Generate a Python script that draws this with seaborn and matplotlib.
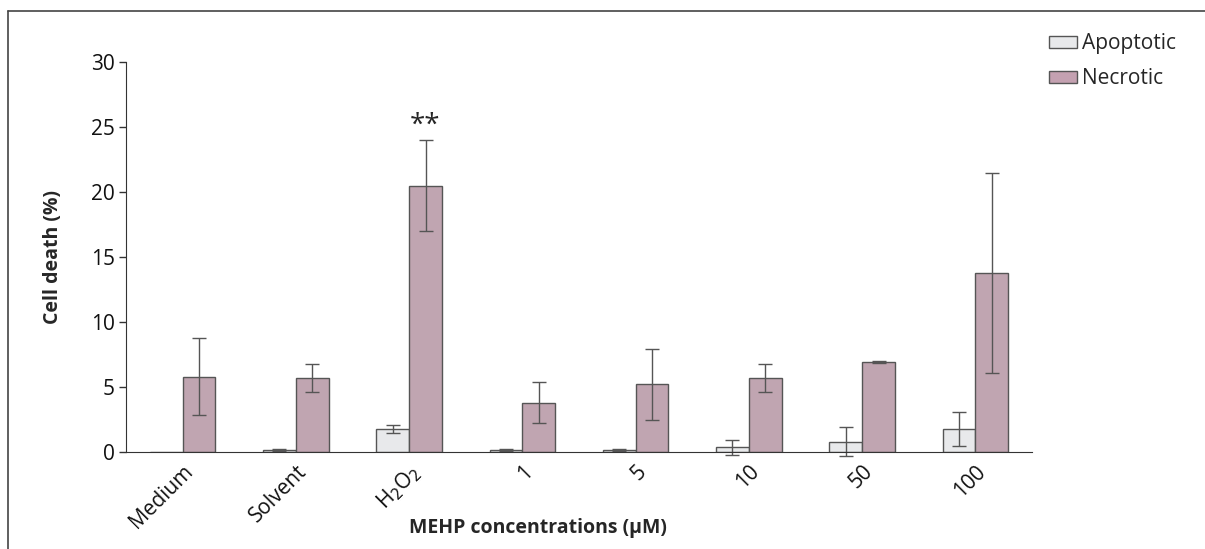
import numpy as np
import pandas as pd
import matplotlib
matplotlib.use("Agg")
import matplotlib.pyplot as plt
import seaborn as sns
from matplotlib.lines import Line2D

# Data
groups = ["Medium", "Solvent", "H$_2$O$_2$", "1", "5", "10", "50", "100"]
apoptotic = [0.03, 0.15, 1.8, 0.15, 0.15, 0.35, 0.8, 1.8]
apoptotic_err = [0.0, 0.1, 0.3, 0.05, 0.05, 0.55, 1.1, 1.3]
necrotic = [5.8, 5.7, 20.5, 3.8, 5.2, 5.7, 6.95, 13.8]
necrotic_err = [2.95, 1.1, 3.5, 1.6, 2.7, 1.1, 0.08, 7.7]
series = ["Apoptotic", "Necrotic"]
colors = ["#e8e9eb", "#c4a1b1"]

df = pd.DataFrame({
    "group": groups * 2,
    "type": [series[0]] * len(groups) + [series[1]] * len(groups),
    "value": apoptotic + necrotic,
    "err": apoptotic_err + necrotic_err,
})

sns.set_style("white")
plt.rcParams["font.family"] = ["Open Sans", "DejaVu Sans"]

fig = plt.figure(figsize=(12.05, 5.49), dpi=100)
ax = fig.add_axes([126 / 1205, 1 - 452 / 549, (1032 - 126) / 1205, (452 - 62) / 549])

sns.barplot(data=df, x="group", y="value", hue="type", order=groups,
            hue_order=series, palette=colors, width=0.58, errorbar=None,
            edgecolor="#555555", linewidth=1.0, ax=ax, legend=False)

# error bars at the centres of the drawn bars
for container, s in zip(ax.containers, series):
    sub = df[df["type"] == s].set_index("group").loc[groups]
    xs = [p.get_x() + p.get_width() / 2 for p in container.patches]
    for x, v, e in zip(xs, sub["value"], sub["err"]):
        if e <= 0:
            continue
        eb = ax.errorbar(x, v, yerr=e, fmt="none", ecolor="#555555",
                         elinewidth=1.0, capsize=5, capthick=1.0)
        for art in eb.lines[1] + eb.lines[2]:
            art.set_clip_on(False)

ax.set_xlim(-0.5, 7.5)
ax.set_ylim(0, 30)
ax.set_yticks(range(0, 31, 5))
sns.despine(ax=ax)
ax.spines["left"].set_color("#333333")
ax.spines["bottom"].set_color("#333333")
ax.tick_params(axis="y", left=True, length=5, width=1, color="#333333",
               labelsize=15, pad=3, labelcolor="#111111")
ax.tick_params(axis="x", bottom=False, labelsize=15, pad=3, labelcolor="#111111")
ax.set_xticks(range(len(groups)))
ax.set_xticklabels(groups, rotation=45, ha="right", rotation_mode="anchor")
ax.set_ylabel("Cell death (%)", fontsize=14, fontweight="bold", labelpad=20)
ax.set_xlabel("MEHP concentrations (µM)", fontsize=14, fontweight="bold")
ax.xaxis.set_label_coords(0.455, -0.168)

# significance marker above H2O2 necrotic bar
h2o2_x = ax.containers[1].patches[2]
ax.text(h2o2_x.get_x() + h2o2_x.get_width() / 2, 24.0, "**",
        ha="center", va="bottom", fontsize=20)

# legend outside the axes
handles = [plt.Rectangle((0, 0), 1, 1, facecolor=c, edgecolor="#555555")
           for c in colors]
fig.legend(handles, series, loc="upper left",
           bbox_to_anchor=(1041 / 1205, 1 - 25 / 549), frameon=False,
           fontsize=15, handlelength=1.35, handleheight=0.5,
           handletextpad=0.2, labelspacing=0.68, borderaxespad=0)

# outer frame (top and left edges visible)
fig.add_artist(Line2D([8 / 1205, 1], [1 - 11 / 549] * 2,
                      transform=fig.transFigure, color="#444444", lw=1.2))
fig.add_artist(Line2D([8 / 1205] * 2, [0, 1 - 11 / 549],
                      transform=fig.transFigure, color="#444444", lw=1.2))

fig.savefig("out.png", dpi=100)
